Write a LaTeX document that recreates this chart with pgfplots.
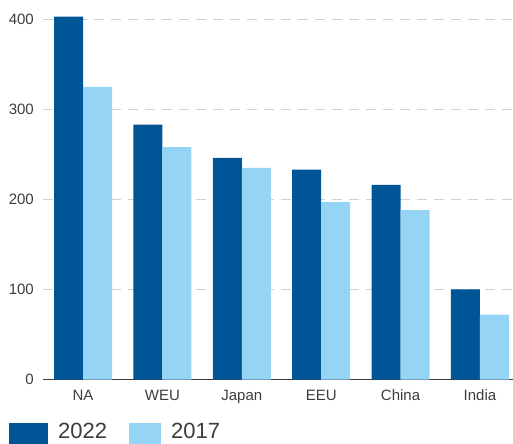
\documentclass[border=0pt]{standalone}
\usepackage{pgfplots}
\pgfplotsset{compat=1.18}
\usepackage{fontspec}
\setmainfont{Liberation Sans}
\definecolor{c22}{HTML}{005596}
\definecolor{c17}{HTML}{96D4F6}
\definecolor{txt}{HTML}{3C3C3C}
\begin{document}
\begin{tikzpicture}[x=1bp,y=1bp]
\begin{axis}[
  at={(43bp,64.5bp)}, anchor=south west,
  scale only axis, width=470bp, height=378.2bp,
  xmin=-0.504, xmax=5.416, ymin=0, ymax=420,
  ybar=0pt, bar width=29bp,
  axis lines*=left,
  y axis line style={draw=none},
  x axis line style={draw=txt, line width=1.7bp},
  xtick={0,...,5}, xticklabels={NA,WEU,Japan,EEU,China,India},
  ytick={0,100,200,300,400},
  major tick length=0pt,
  tick style={draw=none},
  ymajorgrids,
  grid style={draw=black!18, line width=1.5bp, dash pattern=on 10bp off 7bp},
  tick label style={font=\fontsize{15bp}{17bp}\selectfont, text=txt},
  /pgf/number format/assume math mode=true,
  yticklabel style={anchor=east, inner sep=0pt, xshift=-9bp},
  xticklabel style={anchor=base, inner sep=0pt, yshift=-21bp},
  legend style={draw=none, fill=none, at={(-0.0723,-0.1097)}, anchor=north west,
    legend columns=-1, font=\fontsize{22bp}{26bp}\selectfont, text=txt, inner sep=0pt,
    /tikz/every odd column/.append style={column sep=8bp},
    /tikz/every even column/.append style={column sep=20bp}},
]
\addplot[fill=c22, draw=none, legend image code/.code={\fill[c22] (0bp,-15bp) rectangle (39bp,9bp);}]
  coordinates {(0,403) (1,283) (2,246) (3,233) (4,216) (5,100)};
\addplot[fill=c17, draw=none, legend image code/.code={\fill[c17] (0bp,-15bp) rectangle (32bp,9bp);}]
  coordinates {(0,325) (1,258) (2,235) (3,197) (4,188) (5,72)};
\legend{2022,2017}
\end{axis}
\pgfresetboundingbox
\path[use as bounding box] (0,0) rectangle (513bp,444bp);
\end{tikzpicture}
\end{document}
